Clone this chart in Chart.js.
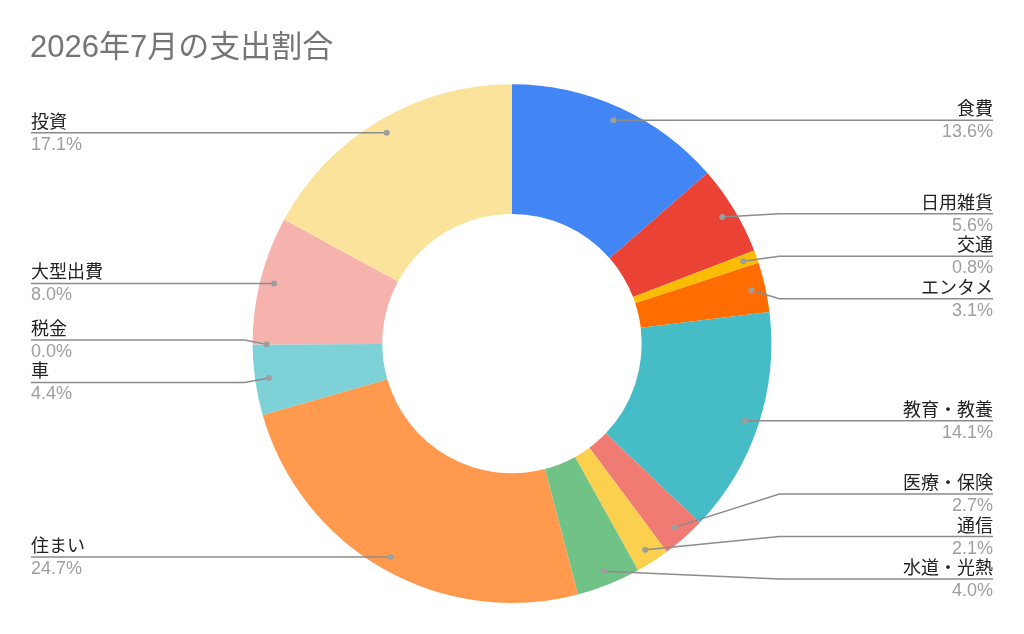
<!DOCTYPE html>
<html lang="ja">
<head>
<meta charset="utf-8">
<title>2026年7月の支出割合</title>
<script src="https://cdn.jsdelivr.net/npm/chart.js@4.4.1/dist/chart.umd.min.js"></script>
<style>
  html, body { margin: 0; padding: 0; background: #fff; }
  #wrap { width: 1024px; height: 634px; position: relative; }
</style>
</head>
<body>
<div id="wrap"><canvas id="shishutsu-chart"></canvas></div>
<script>
// 支出カテゴリと割合 (%)
const categories = ['食費', '日用雑貨', '交通', 'エンタメ', '教育・教養', '医療・保険', '通信', '水道・光熱', '住まい', '車', '税金', '大型出費', '投資'];
const amounts = [13.6, 5.6, 0.8, 3.1, 14.1, 2.7, 2.1, 4.0, 24.7, 4.4, 0.0, 8.0, 17.1];
const sliceColors = ['#4285F4', '#EA4335', '#FBBC04', '#FF6D01', '#46BDC6', '#F07B72', '#FCD04F', '#71C287', '#FF994D', '#7ED1D7', '#B3CEFB', '#F6B3AE', '#FCE39B'];

const FONT = "'Liberation Sans', Arial, 'Noto Sans CJK JP', sans-serif";

// ラベルが重ならないように縦方向にずらす
function spread(items, gap, minY, maxY) {
  items.sort((a, b) => a.py - b.py);
  const groups = [];
  items.forEach(it => {
    groups.push({ list: [it], top: Math.max(minY, Math.min(maxY, it.py)) });
    while (groups.length > 1) {
      const prev = groups[groups.length - 2];
      const cur = groups[groups.length - 1];
      if (prev.top + prev.list.length * gap <= cur.top) break;
      const list = prev.list.concat(cur.list);
      let top = list.reduce((s, o, k) => s + o.py - k * gap, 0) / list.length;
      top = Math.max(minY, Math.min(maxY - (list.length - 1) * gap, top));
      groups.splice(-2, 2, { list, top });
    }
  });
  groups.forEach(g => g.list.forEach((o, k) => { o.y = g.top + k * gap; }));
}

const leaderLabels = {
  id: 'leaderLabels',
  afterDatasetsDraw(chart) {
    const ctx = chart.ctx;
    const meta = chart.getDatasetMeta(0);
    const area = chart.chartArea;
    const total = amounts.reduce((a, b) => a + b, 0);
    const left = [], right = [];

    meta.data.forEach((arc, i) => {
      const p = arc.getProps(['x', 'y', 'startAngle', 'endAngle', 'outerRadius'], true);
      const mid = (p.startAngle + p.endAngle) / 2;
      const r = p.outerRadius - 14;
      const item = {
        i,
        cx: p.x,
        outer: p.outerRadius,
        px: p.x + Math.cos(mid) * r,
        py: p.y + Math.sin(mid) * r
      };
      (Math.cos(mid) >= 0 ? right : left).push(item);
    });

    spread(right, 42.5, area.top + 24, area.bottom - 24);
    spread(left, 42.5, area.top + 24, area.bottom - 24);

    ctx.save();
    const drawSide = (items, isRight) => {
      items.forEach(o => {
        const bendX = o.cx + (isRight ? 1 : -1) * (o.outer + 8);
        const endX = isRight ? 993 : 31;

        ctx.strokeStyle = '#8c8c8c';
        ctx.lineWidth = 1.5;
        ctx.beginPath();
        ctx.moveTo(o.px, o.py);
        ctx.lineTo(bendX, o.y);
        ctx.lineTo(endX, o.y);
        ctx.stroke();

        ctx.fillStyle = '#9e9e9e';
        ctx.beginPath();
        ctx.arc(o.px, o.py, 3, 0, Math.PI * 2);
        ctx.fill();

        ctx.textAlign = isRight ? 'right' : 'left';
        ctx.textBaseline = 'alphabetic';
        ctx.font = '18px ' + FONT;
        ctx.fillStyle = '#222222';
        ctx.fillText(categories[o.i], endX, o.y - 5);

        ctx.fillStyle = '#9e9e9e';
        ctx.fillText((amounts[o.i] / total * 100).toFixed(1) + '%', endX, o.y + 17);
      });
    };
    drawSide(right, true);
    drawSide(left, false);
    ctx.restore();
  }
};

const ctx = document.getElementById('shishutsu-chart').getContext('2d');
new Chart(ctx, {
  type: 'doughnut',
  data: {
    labels: categories,
    datasets: [{
      data: amounts,
      backgroundColor: sliceColors,
      borderWidth: 0
    }]
  },
  options: {
    responsive: true,
    maintainAspectRatio: false,
    animation: false,
    cutout: '50%',
    layout: { padding: { top: 0, left: 30, right: 30, bottom: 31 } },
    plugins: {
      legend: { display: false },
      tooltip: { enabled: false },
      title: {
        display: true,
        text: '2026年7月の支出割合',
        align: 'start',
        color: '#757575',
        font: { family: FONT, size: 31, weight: 'normal', lineHeight: 1.2 },
        padding: { top: 30, bottom: 17 }
      }
    }
  },
  plugins: [leaderLabels]
});
</script>
</body>
</html>
